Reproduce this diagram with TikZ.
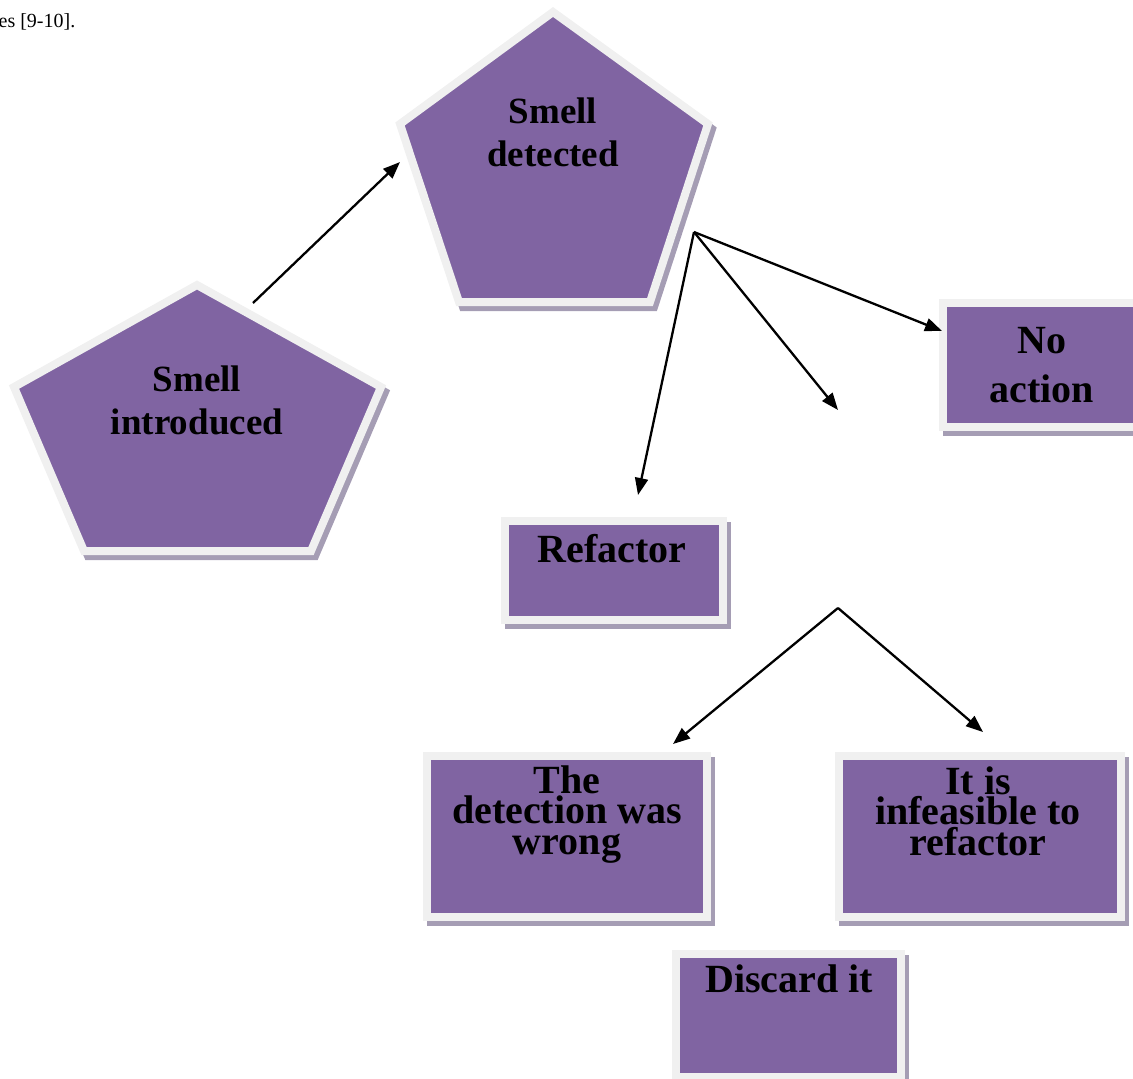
\documentclass[tikz,border=0pt]{standalone}
\usepackage{fontspec}
\setmainfont{Liberation Serif}
\usetikzlibrary{arrows.meta}
\definecolor{purp}{HTML}{8064A2}
\definecolor{rim}{HTML}{F0F0F0}
\definecolor{shad}{HTML}{A59DB4}
\begin{document}
\begin{tikzpicture}[x=1pt,y=-1pt,
  shape3d/.style={fill=purp, draw=rim, line width=8pt, line join=miter,
    preaction={draw=shad, fill=shad, line width=8pt, transform canvas={shift={(4pt,-5pt)}}}},
  boxstyle/.style={shape3d, rectangle, inner sep=0pt},
  lbl/.style={font=\fontsize{40}{42}\selectfont\bfseries, align=center, inner sep=0pt, anchor=base},
  pent/.style={font=\fontsize{37}{43}\selectfont\bfseries},
  tight/.style={font=\fontsize{40}{30.5}\selectfont\bfseries},
  arr/.style={-{Triangle[length=17pt,width=13pt]}, line width=2.3pt}]
\useasboundingbox (0,0) rectangle (1133,1079);

% pentagons
\path[shape3d] (197,285) -- (381,387) -- (311,551) -- (84,551) -- (14,387) -- cycle;
\path[shape3d] (553,12) -- (708,124) -- (650,302) -- (459,302) -- (400,124) -- cycle;
\node[lbl, pent] (intro) at (197,434) {Smell\\introduced};
\node[lbl, pent] (detect) at (553,166) {Smell\\detected};

% boxes
\node[boxstyle, minimum width=218pt, minimum height=99pt] (refbox) at (614,570.5) {};
\node[lbl] (refactor) at (612,562) {Refactor};
\node[boxstyle, minimum width=198pt, minimum height=124pt] (nobox) at (1042,365) {};
\node[lbl, font=\fontsize{40}{49}\selectfont\bfseries] (noaction) at (1042,402) {No\\action};
\node[boxstyle, minimum width=280pt, minimum height=161pt] (wrongbox) at (567,836.5) {};
\node[lbl, tight] (wrong) at (567,854) {The\\detection was\\wrong};
\node[boxstyle, minimum width=282pt, minimum height=161pt] (infbox) at (980,836.5) {};
\node[lbl, tight] (infeasible) at (978,855) {It is\\infeasible to\\refactor};
\node[boxstyle, minimum width=225pt, minimum height=123pt] (discbox) at (788.5,1015.5) {};
\node[lbl] (discard) at (789,992) {Discard it};

\node[anchor=base east, inner sep=0pt, font=\fontsize{20}{24}\selectfont] (cite) at (75.5,27) {es [9-10].};

% connectors
\coordinate (s1) at (253,303);
\coordinate (e1) at (400,162);
\coordinate (s2) at (694,232);
\coordinate (e2a) at (638,495);
\coordinate (e2b) at (838,410);
\coordinate (e2c) at (942,331);
\coordinate (s3) at (838,608);
\coordinate (e3a) at (673,744);
\coordinate (e3b) at (983,732);
\draw[arr] (s1) -- (e1);
\draw[arr] (s2) -- (e2a);
\draw[arr] (s2) -- (e2b);
\draw[arr] (s2) -- (e2c);
\draw[arr] (s3) -- (e3a);
\draw[arr] (s3) -- (e3b);
\end{tikzpicture}
\end{document}
